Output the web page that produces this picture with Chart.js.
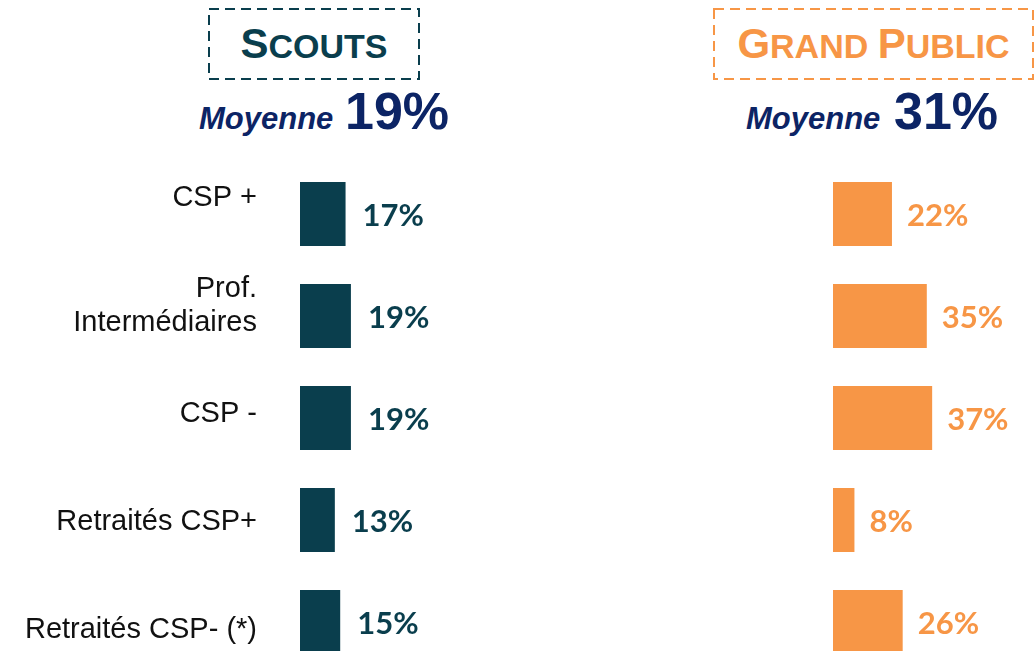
<!DOCTYPE html>
<html><head><meta charset="utf-8">
<script src="https://cdn.jsdelivr.net/npm/chart.js@4.4.1/dist/chart.umd.min.js"></script>
<style>
html,body{margin:0;padding:0;background:#fff;overflow:hidden;}
#stage{position:relative;width:1036px;height:651px;overflow:hidden;background:#fff;}
canvas{position:absolute;}
svg{position:absolute;left:0;top:0;}
</style></head><body>
<div id="stage">
<svg id="hdr" width="1036" height="150" xmlns="http://www.w3.org/2000/svg"></svg>
<canvas id="labels" width="300" height="540" style="left:0;top:144px"></canvas>
<canvas id="left" width="268" height="510" style="left:300px;top:163px"></canvas>
<canvas id="right" width="268" height="510" style="left:833px;top:163px"></canvas>
</div>
<script>
// ---- data ----
const categories = [['CSP +'], ['Prof.', 'Intermédiaires'], 'CSP -', 'Retraités CSP+', 'Retraités CSP- (*)'];
const scoutsValues = [17, 19, 19, 13, 15];
const publicValues = [22, 35, 37, 8, 26];
const panelTitles = [['S', 'COUTS'], ['G', 'RAND ', 'P', 'UBLIC']];
const averages = [19, 31];
const averageWord = 'Moyenne';

// ---- styles ----
const TEAL = '#0a3e4d';
const ORANGE = '#f79646';
const NAVY = '#0c2465';

// ---- header (SVG text) ----
const svg = document.getElementById('hdr');
function titleSpans(parts, bigSize, smallSize) {
  return parts.map((p, i) => `<tspan font-size="${i % 2 === 0 ? bigSize : smallSize}">${p}</tspan>`).join('');
}
svg.innerHTML = `
<rect x="209" y="9" width="210" height="70" fill="none" stroke="${TEAL}" stroke-width="2" stroke-dasharray="10 6"/>
<rect x="714" y="9" width="319" height="70" fill="none" stroke="${ORANGE}" stroke-width="2" stroke-dasharray="10 6"/>
<text x="314" y="58" text-anchor="middle" font-family="Liberation Sans, Arial, sans-serif" font-weight="bold" fill="${TEAL}">${titleSpans(panelTitles[0], 42, 34)}</text>
<text x="873.5" y="58" text-anchor="middle" font-family="Liberation Sans, Arial, sans-serif" font-weight="bold" fill="${ORANGE}">${titleSpans(panelTitles[1], 42, 34)}</text>
<text x="199" y="129" font-family="Liberation Sans, Arial, sans-serif" font-weight="bold" font-style="italic" font-size="31" fill="${NAVY}">${averageWord}</text>
<text x="345" y="129" font-family="Liberation Sans, Arial, sans-serif" font-weight="bold" font-size="52" fill="${NAVY}">${averages[0]}%</text>
<text x="746" y="129" font-family="Liberation Sans, Arial, sans-serif" font-weight="bold" font-style="italic" font-size="31" fill="${NAVY}">${averageWord}</text>
<text x="894" y="129" font-family="Liberation Sans, Arial, sans-serif" font-weight="bold" font-size="52" fill="${NAVY}">${averages[1]}%</text>
`;

Chart.defaults.animation = false;

// ---- category labels (axis-only chart) ----
new Chart(document.getElementById('labels'), {
  type: 'bar',
  data: { labels: categories, datasets: [] },
  options: {
    indexAxis: 'y',
    responsive: false,
    devicePixelRatio: 1,
    layout: { padding: 0 },
    plugins: { legend: { display: false }, tooltip: { enabled: false } },
    scales: {
      x: { type: 'linear', display: false, min: 0, max: 100 },
      y: {
        type: 'category',
        offset: true,
        grid: { display: false, drawTicks: false },
        border: { display: false },
        ticks: {
          autoSkip: false,
          padding: 0,
          color: '#111',
          font: { family: 'Liberation Sans, Arial, sans-serif', size: 29, lineHeight: 1.14 }
        },
        afterFit: s => { s.width = 257; s.paddingTop = 0; s.paddingBottom = 0; }
      }
    }
  }
});

// ---- value labels plugin ----
const valueLabels = {
  id: 'valueLabels',
  afterDatasetsDraw(chart, args, opts) {
    const { ctx } = chart;
    const meta = chart.getDatasetMeta(0);
    const values = chart.data.datasets[0].data;
    ctx.save();
    ctx.font = `700 ${opts.size}px Lato, "Open Sans", sans-serif`;
    ctx.fillStyle = opts.color;
    ctx.textAlign = 'left';
    ctx.textBaseline = 'alphabetic';
    meta.data.forEach((bar, i) => {
      ctx.fillText(values[i] + '%', bar.x + opts.gap, bar.y + opts.rise);
    });
    ctx.restore();
  }
};

function barChart(id, values, color, gap) {
  return new Chart(document.getElementById(id), {
    type: 'bar',
    data: {
      labels: categories,
      datasets: [{
        data: values,
        backgroundColor: color,
        borderWidth: 0,
        barPercentage: 0.6275,
        categoryPercentage: 1
      }]
    },
    options: {
      indexAxis: 'y',
      responsive: false,
      devicePixelRatio: 1,
      layout: { padding: 0 },
      plugins: {
        legend: { display: false },
        tooltip: { enabled: false },
        valueLabels: { color: color, size: 31, gap: gap, rise: 12 }
      },
      scales: {
        x: { type: 'linear', display: false, min: 0, max: 100 },
        y: { type: 'category', display: false, offset: true }
      }
    },
    plugins: [valueLabels]
  });
}

barChart('left', scoutsValues, TEAL, 17);
barChart('right', publicValues, ORANGE, 15);
</script>
</body></html>
